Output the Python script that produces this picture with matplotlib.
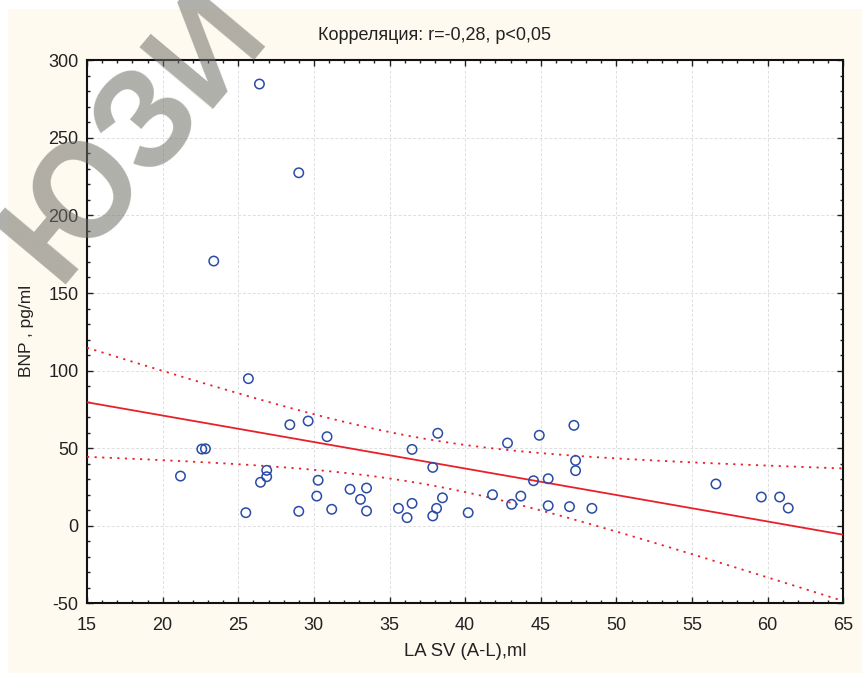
import numpy as np
import matplotlib
matplotlib.use("Agg")
import matplotlib.pyplot as plt
from matplotlib.patches import Rectangle
from matplotlib.ticker import MultipleLocator

plt.rcParams['font.family'] = ['Liberation Sans', 'DejaVu Sans']
plt.rcParams['axes.unicode_minus'] = False

title = "Корреляция: r=-0,28, p<0,05"
xlabel = "LA SV (A-L),ml"
ylabel = "BNP , pg/ml"
watermark = "ЮЗИ"

la_sv = [26.40, 29.00, 23.38, 25.67, 28.41, 29.62, 30.87, 22.59, 22.83, 21.18,
         26.88, 26.88, 26.47, 25.50, 30.28, 30.19, 29.00, 31.18, 32.39, 33.08,
         33.48, 33.48, 35.59, 36.16, 36.49, 36.49, 37.86, 38.19, 38.11, 37.86,
         38.50, 40.20, 41.81, 43.07, 43.68, 42.80, 44.52, 45.49, 45.49, 44.90,
         47.19, 47.30, 47.30, 46.90, 48.38, 56.58, 59.58, 60.79, 61.36]
bnp = [284.7, 227.5, 170.6, 94.8, 65.1, 67.5, 57.4, 49.4, 49.6, 32.0,
       35.7, 31.6, 28.0, 8.4, 29.3, 19.1, 9.3, 10.6, 23.5, 17.0,
       24.3, 9.5, 11.2, 5.2, 14.4, 49.2, 37.6, 59.6, 11.2, 6.3,
       18.0, 8.4, 20.0, 13.8, 19.1, 53.3, 29.0, 30.3, 12.9, 58.3,
       64.7, 42.1, 35.5, 12.3, 11.2, 26.9, 18.5, 18.5, 11.4]

x = np.array(la_sv)
y = np.array(bnp)
n = len(x)
slope, intercept = np.polyfit(x, y, 1)
xs = np.linspace(15, 65, 200)
yhat = intercept + slope * xs
resid = y - (intercept + slope * x)
s = np.sqrt(np.sum(resid ** 2) / (n - 2))
sxx = np.sum((x - x.mean()) ** 2)
t = 2.012
hw = t * s * np.sqrt(1.0 / n + (xs - x.mean()) ** 2 / sxx)

fig = plt.figure(figsize=(8.65, 6.75), dpi=100)
fig.patch.set_facecolor('white')
bg = Rectangle((8 / 865, 1 - 673 / 675), 854 / 865, 664 / 675,
               transform=fig.transFigure, facecolor='#FEFAF0',
               edgecolor='none', zorder=-5)
fig.add_artist(bg)

ax = fig.add_axes([87 / 865, 1 - 603.3 / 675, 756.3 / 865, 543 / 675])
ax.set_zorder(1)
ax.set_facecolor('white')
red = '#E8202A'
ax.plot(xs, yhat, color=red, lw=1.3, zorder=3)
ax.plot(xs, yhat + hw, color=red, lw=1.3, ls=(0, (1.2, 3.0)), zorder=3)
ax.plot(xs, yhat - hw, color=red, lw=1.3, ls=(0, (1.2, 3.0)), zorder=3)
ax.scatter(x, y, s=46, facecolors='none', edgecolors='#2A4BA6', linewidths=1.1, zorder=4)

ax.set_xlim(15, 65)
ax.set_ylim(-50, 300)
ax.xaxis.set_major_locator(MultipleLocator(5))
ax.xaxis.set_minor_locator(MultipleLocator(1))
ax.yaxis.set_major_locator(MultipleLocator(50))
ax.yaxis.set_minor_locator(MultipleLocator(10))
ax.tick_params(which='both', direction='in', top=True, right=True,
               labelsize=13, colors='#222222', width=1.0)
ax.tick_params(which='major', length=4)
ax.tick_params(which='minor', length=2.5)
ax.tick_params(axis='x', which='major', pad=10)
ax.tick_params(axis='y', which='major', pad=6)
ax.grid(True, which='major', color='#dedede', ls=(0, (3, 2)), lw=0.7)
for sp in ax.spines.values():
    sp.set_linewidth(1.5)
    sp.set_color('#111111')

fig.text(435 / 865, 1 - 35 / 675, title, ha='center', va='center', fontsize=13, color='#222222')
fig.text(465 / 865, 1 - 651 / 675, xlabel, ha='center', va='center', fontsize=13.3, color='#222222')
fig.text(26 / 865, 1 - 331 / 675, ylabel, ha='center', va='center', rotation=90,
         fontsize=12.5, color='#222222')

fig.text(135 / 865, 1 - 135 / 675, watermark, ha='center', va='center', rotation=50,
         fontsize=100, fontweight='bold', color='#6e6e66', alpha=0.55, zorder=10)

fig.savefig('out.png', dpi=100)
